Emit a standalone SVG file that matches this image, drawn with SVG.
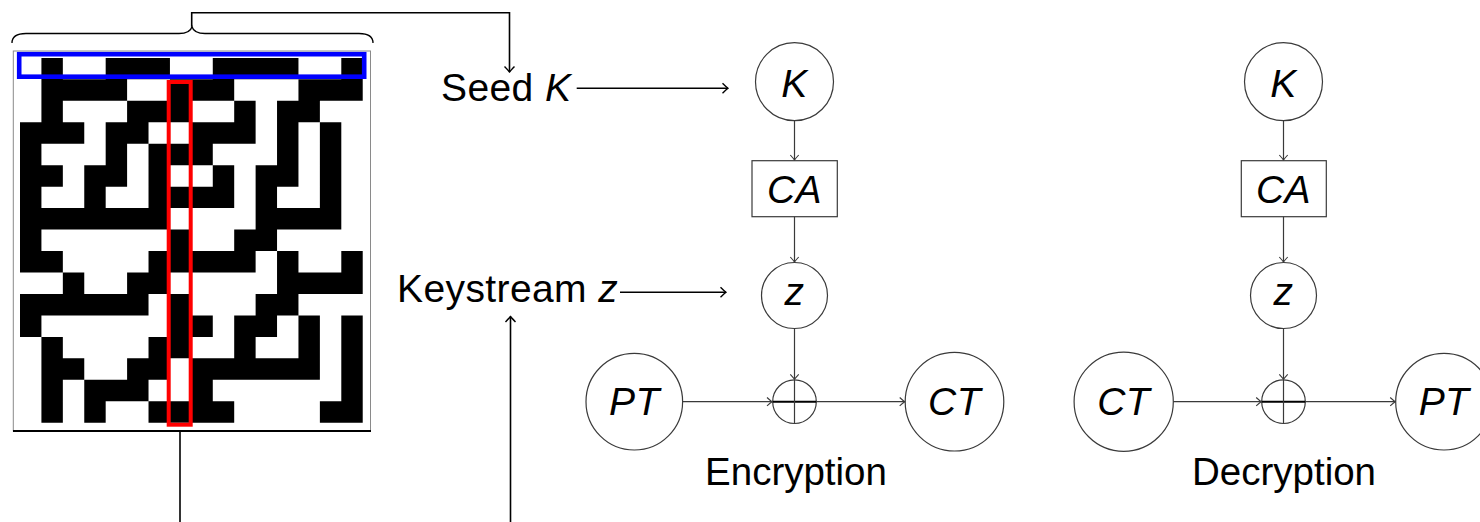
<svg xmlns="http://www.w3.org/2000/svg" width="1480" height="522" viewBox="0 0 1480 522">
  <style>
    .lbl { font-family: "Liberation Sans", Arial, sans-serif; font-size: 39px; letter-spacing: 0.4px; fill: #000; }
    .cap { letter-spacing: 0; font-size: 38.5px; }
    .it { font-style: italic; }
    .node { fill: #fff; stroke: #3a3a3a; stroke-width: 1.2; }
    .thin { fill: none; stroke: #3a3a3a; stroke-width: 1.2; }
    .thick { fill: none; stroke: #000; stroke-width: 1.6; }
  </style>
  <defs>
    <marker id="ah" viewBox="-8 -7 10 14" refX="0" refY="0" markerWidth="10" markerHeight="14" markerUnits="userSpaceOnUse" orient="auto">
      <path d="M-5,-4.2 Q-1.5,-1 0,0 Q-1.5,1 -5,4.2" fill="none" stroke="#3a3a3a" stroke-width="1.1"/>
    </marker>
    <marker id="ahk" viewBox="-8 -7 10 14" refX="0" refY="0" markerWidth="10" markerHeight="14" markerUnits="userSpaceOnUse" orient="auto">
      <path d="M-5.5,-5 Q-1.5,-1.2 0,0 Q-1.5,1.2 -5.5,5" fill="none" stroke="#000" stroke-width="1.4"/>
    </marker>
  </defs>
  <rect width="1480" height="522" fill="#fff"/>

  <!-- Cellular automaton grid -->
  <g id="ca-grid">
    <rect x="13.3" y="51" width="357.2" height="380" fill="#fff" stroke="#8a8a8a" stroke-width="1"/>
    <path transform="translate(20 57.9) scale(21.42 21.46)" fill="#000" d="M1 0h1v1h-1z M4 0h3v1h-3z M9 0h4v1h-4z M15 0h1v1h-1z M1 1h4v1h-4z M7 1h3v1h-3z M13 1h3v1h-3z M1 2h1v1h-1z M5 2h3v1h-3z M10 2h1v1h-1z M12 2h2v1h-2z M0 3h3v1h-3z M4 3h2v1h-2z M8 3h3v1h-3z M12 3h1v1h-1z M14 3h1v1h-1z M0 4h1v1h-1z M4 4h1v1h-1z M6 4h3v1h-3z M12 4h1v1h-1z M14 4h1v1h-1z M0 5h2v1h-2z M3 5h2v1h-2z M6 5h1v1h-1z M9 5h1v1h-1z M11 5h2v1h-2z M14 5h1v1h-1z M0 6h1v1h-1z M3 6h1v1h-1z M6 6h4v1h-4z M11 6h1v1h-1z M14 6h1v1h-1z M0 7h7v1h-7z M11 7h4v1h-4z M0 8h1v1h-1z M7 8h1v1h-1z M10 8h2v1h-2z M0 9h2v1h-2z M6 9h5v1h-5z M12 9h1v1h-1z M15 9h1v1h-1z M2 10h1v1h-1z M5 10h2v1h-2z M12 10h4v1h-4z M0 11h6v1h-6z M7 11h1v1h-1z M11 11h2v1h-2z M0 12h1v1h-1z M7 12h2v1h-2z M10 12h2v1h-2z M13 12h1v1h-1z M15 12h1v1h-1z M1 13h1v1h-1z M6 13h2v1h-2z M10 13h1v1h-1z M13 13h1v1h-1z M15 13h1v1h-1z M1 14h2v1h-2z M5 14h2v1h-2z M8 14h6v1h-6z M15 14h1v1h-1z M1 15h1v1h-1z M3 15h3v1h-3z M8 15h1v1h-1z M15 15h1v1h-1z M1 16h1v1h-1z M3 16h1v1h-1z M6 16h4v1h-4z M14 16h2v1h-2z"/>
    <line x1="13" y1="431" x2="371" y2="431" stroke="#000" stroke-width="2"/>
    <rect x="19.2" y="54.2" width="345" height="22.5" fill="none" stroke="#0000ff" stroke-width="4.6"/>
    <rect x="168.7" y="82" width="22" height="342.7" fill="none" stroke="#ff0000" stroke-width="4"/>
    <path d="M12,43 Q12,33.5 26,33.5 H179 Q190,33.5 192,26.7 Q194,33.5 205,33.5 H359 Q373,33.5 373,43" fill="none" stroke="#000" stroke-width="1.3"/>
  </g>

  <g id="seed-label">
    <text class="lbl" x="441" y="100.7">Seed <tspan class="it">K</tspan></text>
  </g>
  <g id="keystream-label">
    <text class="lbl" x="397" y="301.7">Keystream <tspan class="it">z</tspan></text>
  </g>

  <!-- Encryption -->
  <g id="enc-K">
    <circle class="node" cx="794.5" cy="81.7" r="39"/>
    <text class="lbl it" x="794.5" y="96.5" text-anchor="middle">K</text>
  </g>
  <g id="enc-CA">
    <rect class="node" x="752" y="160.7" width="85.3" height="56"/>
    <text class="lbl it" x="794.5" y="203.3" text-anchor="middle">CA</text>
  </g>
  <g id="enc-z">
    <circle class="node" cx="794.5" cy="295.5" r="33"/>
    <text class="lbl it" x="794.5" y="305" text-anchor="middle">z</text>
  </g>
  <g id="enc-xor">
    <circle class="node" cx="794.5" cy="401.7" r="21.8" stroke-width="1.5"/>
    <path d="M772.7,401.7 H816.3" stroke="#000" stroke-width="2"/>
    <path class="thin" d="M794.5,379.9 V423.5"/>
  </g>
  <g id="enc-PT">
    <circle class="node" cx="634.3" cy="401.7" r="48.3"/>
    <text class="lbl it" x="634.3" y="415" text-anchor="middle">PT</text>
  </g>
  <g id="enc-CT">
    <circle class="node" cx="954.5" cy="401.7" r="49.3"/>
    <text class="lbl it" x="954.5" y="415" text-anchor="middle">CT</text>
  </g>
  <g id="enc-label">
    <text class="lbl cap" x="796" y="485" text-anchor="middle">Encryption</text>
  </g>

  <!-- Decryption -->
  <g id="dec-K">
    <circle class="node" cx="1283.5" cy="81.7" r="39"/>
    <text class="lbl it" x="1283.5" y="96.5" text-anchor="middle">K</text>
  </g>
  <g id="dec-CA">
    <rect class="node" x="1241.3" y="160.7" width="85" height="56"/>
    <text class="lbl it" x="1283.5" y="203.3" text-anchor="middle">CA</text>
  </g>
  <g id="dec-z">
    <circle class="node" cx="1283.5" cy="295.5" r="33"/>
    <text class="lbl it" x="1283.5" y="305" text-anchor="middle">z</text>
  </g>
  <g id="dec-xor">
    <circle class="node" cx="1283.5" cy="401.7" r="21.8" stroke-width="1.5"/>
    <path d="M1261.7,401.7 H1305.3" stroke="#000" stroke-width="2"/>
    <path class="thin" d="M1283.5,379.9 V423.5"/>
  </g>
  <g id="dec-CT">
    <circle class="node" cx="1123.7" cy="401.7" r="49.6"/>
    <text class="lbl it" x="1123.7" y="415" text-anchor="middle">CT</text>
  </g>
  <g id="dec-PT">
    <circle class="node" cx="1444" cy="401.7" r="48.3"/>
    <text class="lbl it" x="1444" y="415" text-anchor="middle">PT</text>
  </g>
  <g id="dec-label">
    <text class="lbl cap" x="1284" y="485" text-anchor="middle">Decryption</text>
  </g>

  <!-- Connectors -->
  <g id="connectors">
    <path class="thick" d="M191.7,26.7 V12.7 H509.5 V72" marker-end="url(#ahk)"/>
    <path class="thick" d="M576.7,88.3 H728" marker-end="url(#ahk)"/>
    <path class="thick" d="M620,292.3 H726" marker-end="url(#ahk)"/>
    <path class="thick" d="M180,431 V522"/>
    <path class="thick" d="M510.5,522 V316.5" marker-end="url(#ahk)"/>

    <path class="thin" d="M794.5,120.7 V160" marker-end="url(#ah)"/>
    <path class="thin" d="M794.5,216.7 V262" marker-end="url(#ah)"/>
    <path class="thin" d="M794.5,328.5 V379.3" marker-end="url(#ah)"/>
    <path class="thin" d="M682.6,401.7 H772" marker-end="url(#ah)"/>
    <path class="thin" d="M816.3,401.7 H904.7" marker-end="url(#ah)"/>

    <path class="thin" d="M1283.5,120.7 V160" marker-end="url(#ah)"/>
    <path class="thin" d="M1283.5,216.7 V262" marker-end="url(#ah)"/>
    <path class="thin" d="M1283.5,328.5 V379.3" marker-end="url(#ah)"/>
    <path class="thin" d="M1173.3,401.7 H1261.2" marker-end="url(#ah)"/>
    <path class="thin" d="M1305.3,401.7 H1395.2" marker-end="url(#ah)"/>
  </g>
</svg>
